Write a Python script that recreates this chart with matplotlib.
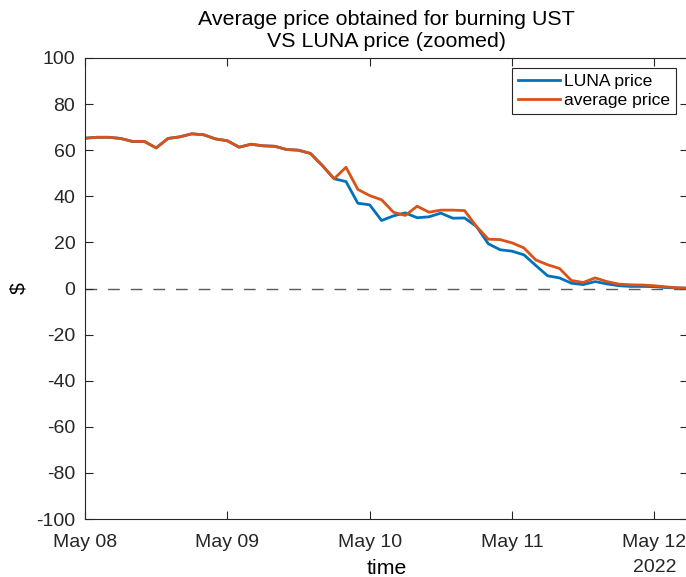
import numpy as np
import matplotlib
matplotlib.use("Agg")
import matplotlib.pyplot as plt
import matplotlib.dates as mdates

plt.rcParams['font.family'] = ['Liberation Sans', 'DejaVu Sans']
plt.rcParams['axes.unicode_minus'] = False

# 2-hourly samples starting May 8 2022 00:00
start = np.datetime64('2022-05-08T00:00')
luna_price = [65.2, 65.6, 65.6, 65.1, 63.8, 63.8, 61.0, 65.1, 65.8, 67.1, 66.7, 64.9,
              64.1, 61.3, 62.6, 61.9, 61.7, 60.3, 60.0, 58.6, 53.4, 47.6, 46.4, 37.0,
              36.3, 29.5, 31.5, 32.8, 30.7, 31.1, 32.7, 30.5, 30.6, 26.9, 19.4, 16.8,
              16.2, 14.6, 10.0, 5.5, 4.6, 2.3, 1.7, 3.0, 2.0, 1.2, 0.9, 0.9, 0.8, 0.4,
              0.2, 0.1]
avg_price = [65.2, 65.6, 65.6, 65.1, 63.8, 63.8, 61.0, 65.1, 65.8, 67.1, 66.7, 64.9,
             64.1, 61.3, 62.6, 61.9, 61.7, 60.3, 60.0, 58.6, 53.4, 47.6, 52.6, 43.0,
             40.3, 38.5, 33.1, 31.7, 35.7, 33.1, 34.0, 34.0, 33.8, 26.9, 21.4, 21.2,
             19.8, 17.6, 12.4, 10.3, 8.7, 3.5, 2.6, 4.6, 3.0, 1.9, 1.6, 1.5, 1.2, 0.7,
             0.3, 0.1]
times = start + np.arange(len(luna_price)) * np.timedelta64(2, 'h')
day_ticks = np.arange('2022-05-08', '2022-05-13', dtype='datetime64[D]')
yticks = np.arange(-100, 101, 20)

fig = plt.figure(figsize=(6.86, 5.77), dpi=100)
ax = fig.add_axes([85/686, (577-519)/577, (688-85)/686, (519-58)/577])

ax.plot(times, luna_price, color='#0072BD', lw=2, label='LUNA price')
ax.plot(times, avg_price, color='#D95319', lw=2, label='average price')
ax.axhline(0, color='#5a5a5a', lw=1, ls=(0, (8.4, 7.9)), zorder=0)

ax.set_xlim(np.datetime64('2022-05-08T00:00'), np.datetime64('2022-05-12T05:40'))
ax.set_ylim(-100, 100)
ax.set_yticks(yticks)
ax.set_xticks(day_ticks)
ax.xaxis.set_major_formatter(mdates.DateFormatter('%b %d'))
ax.tick_params(direction='in', length=6, width=0.8, top=True, right=True,
               labelsize=14, colors='#262626')
ax.tick_params(axis='x', pad=10.5)
ax.tick_params(axis='y', pad=7)
for s in ax.spines.values():
    s.set_color('#262626')
    s.set_linewidth(0.8)

ax.set_title('Average price obtained for burning UST\nVS LUNA price (zoomed)',
             fontsize=15.4, pad=8, linespacing=1.22)
ax.set_ylabel('$', fontsize=15.4, labelpad=6)
ax.set_xlabel('time', fontsize=15.4, labelpad=6)
ax.text(np.datetime64('2022-05-12'), -121, '2022', ha='center', va='center', fontsize=14,
        color='#262626')

leg = ax.legend(loc='upper right', bbox_to_anchor=(0.980, 0.978),
                fontsize=12.6, handlelength=2.4, handletextpad=0.25, borderpad=0.32,
                labelspacing=0.22, fancybox=False, framealpha=1, edgecolor='#262626',
                borderaxespad=0)
leg.get_frame().set_linewidth(0.8)

fig.savefig('out.png', dpi=100)
